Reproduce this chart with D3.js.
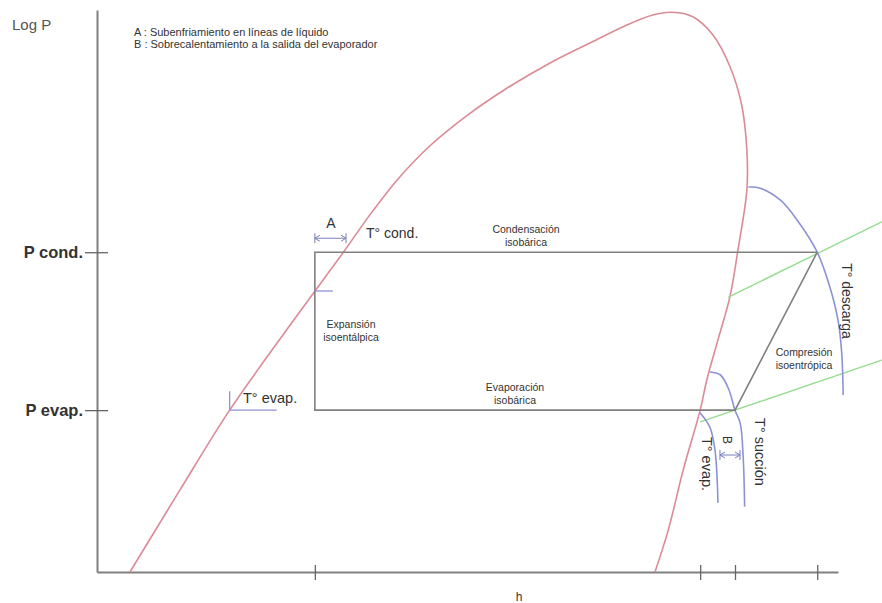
<!DOCTYPE html>
<html>
<head>
<meta charset="utf-8">
<script src="https://cdn.jsdelivr.net/npm/d3@7"></script>
<style>
  body { margin: 0; background: #fff; }
  svg { display: block; font-family: "Liberation Sans", Arial, sans-serif; }
</style>
</head>
<body>
<div id="chart"></div>
<script>
// enthalpy (h) and log P in relative units, 0..100
const hLiquid = 29.4;   // expansion line
const hVapor = 81.4;    // saturated vapour at evap
const hSuction = 86.1;  // compressor suction
const hDischarge = 97.2;
const pCond = 56.9;
const pEvap = 28.8;

const xTicks = [hLiquid, hVapor, hSuction, hDischarge];
const yTicks = [pCond, pEvap];
const yTickLabels = ['P cond.', 'P evap.'];

// saturation dome (liquid branch then vapour branch)
const domeH = [4.45, 11.2, 17.9, 25.6, 33.2, 36.8, 40.6, 44.9, 49.7, 55.1, 60.9, 66.8, 71.3, 75.0, 77.6,
  80.4, 83.1, 85.4, 87.0, 87.7, 87.7, 86.5, 85.4, 83.8, 82.3, 81.4, 79.1, 77.1, 75.3];
const domeP = [0, 14.6, 28.8, 43.1, 56.8, 63.5, 69.9, 75.8, 81.0, 85.9, 90.4, 94.3, 97.2, 99.1, 99.6,
  98.8, 95.6, 90.0, 83.1, 75.1, 68.0, 57.3, 48.9, 41.3, 34.2, 28.8, 18.1, 7.5, 0];

// isotherms
const dischargeH = [87.9, 89.5, 92.2, 94.5, 97.2, 98.9, 100, 100.5, 100.7];
const dischargeP = [68.5, 68.3, 66.2, 62.6, 56.9, 50.7, 44.8, 39.0, 31.5];
const suctionH = [82.7, 84.1, 85.2, 86.1, 86.8, 87.2, 87.4];
const suctionP = [35.6, 35.1, 32.7, 28.8, 26.5, 20.5, 11.6];
const evapH = [81.4, 82.7, 83.4, 83.8];
const evapP = [28.3, 25.8, 21.7, 12.3];

// isentropes
const isenHighH = [85.2, 105.9];
const isenHighP = [48.9, 62.3];
const isenLowH = [81.4, 105.9];
const isenLowP = [26.7, 37.7];

// cycle corners
const cycleH = [hDischarge, hLiquid, hLiquid, hSuction, hDischarge];
const cycleP = [pCond, pCond, pEvap, pEvap, pCond];

const hSatLiqCond = 33.2;  // end of subcooling
const hSatLiqEvap = 17.9;
const pCrossLiquid = 50.0; // where expansion line meets the dome

const width = 882, height = 603;
const svg = d3.select('#chart').append('svg')
  .attr('width', width).attr('height', height);

const x = d3.scaleLinear().domain([0, 100]).range([97, 838]);
const y = d3.scaleLinear().domain([0, 100]).range([572, 10]);

const zip = (hs, ps) => hs.map((h, i) => [h, ps[i]]);
const smooth = d3.line().x(d => x(d[0])).y(d => y(d[1])).curve(d3.curveCatmullRom.alpha(0.5));
const straight = d3.line().x(d => x(d[0])).y(d => y(d[1]));

const red = '#dc8a96', blue = '#8d92d6', green = '#95dc8f', grey = '#808080';

// axes
const xAxis = svg.append('g')
  .attr('transform', 'translate(0,' + y(0) + ')')
  .call(d3.axisBottom(x).tickValues(xTicks).tickFormat('').tickSizeOuter(0));
xAxis.select('.domain').attr('stroke', grey).attr('stroke-width', 2);
xAxis.selectAll('.tick line').attr('y1', -7).attr('y2', 8).attr('stroke', '#666').attr('stroke-width', 1.3);

const yAxis = svg.append('g')
  .attr('transform', 'translate(' + x(0) + ',0)')
  .call(d3.axisLeft(y).tickValues(yTicks).tickFormat((d, i) => yTickLabels[i]).tickSizeOuter(0));
yAxis.select('.domain').attr('stroke', grey).attr('stroke-width', 2);
yAxis.selectAll('.tick line').attr('x1', -12).attr('x2', 11).attr('stroke', '#666').attr('stroke-width', 1.3);
yAxis.selectAll('.tick text')
  .attr('x', -14)
  .attr('fill', '#333')
  .style('font-family', '"Liberation Sans", Arial, sans-serif')
  .style('font-size', '16.5px')
  .style('font-weight', 'bold');

svg.append('text').attr('x', 12).attr('y', 30)
  .attr('fill', '#555').style('font-size', '15px').text('Log P');
svg.append('text').attr('x', 519).attr('y', 601)
  .attr('fill', '#333').attr('text-anchor', 'middle').style('font-size', '12px').text('h');

// legend notes
const notes = ['A : Subenfriamiento en líneas de líquido', 'B : Sobrecalentamiento a la salida del evaporador'];
svg.selectAll('.note').data(notes).join('text')
  .attr('class', 'note')
  .attr('x', 134).attr('y', (d, i) => 36 + i * 12)
  .attr('fill', '#333').style('font-size', '11px')
  .text(d => d);

// dome
svg.append('path').attr('d', smooth(zip(domeH, domeP)))
  .attr('fill', 'none').attr('stroke', red).attr('stroke-width', 1.6);

// isentropes
[[isenHighH, isenHighP], [isenLowH, isenLowP]].forEach(([hs, ps]) => {
  svg.append('path').attr('d', straight(zip(hs, ps)))
    .attr('fill', 'none').attr('stroke', green).attr('stroke-width', 1.4);
});

// isotherms
[[dischargeH, dischargeP], [suctionH, suctionP], [evapH, evapP]].forEach(([hs, ps]) => {
  svg.append('path').attr('d', smooth(zip(hs, ps)))
    .attr('fill', 'none').attr('stroke', blue).attr('stroke-width', 1.6);
});

// cycle
svg.append('path').attr('d', straight(zip(cycleH, cycleP)))
  .attr('fill', 'none').attr('stroke', grey).attr('stroke-width', 1.6);

// small blue marks
const mark = svg.append('g').attr('stroke', blue).attr('stroke-width', 1.3).attr('fill', 'none');
mark.append('path').attr('d',
  'M' + x(hSatLiqEvap) + ',' + (y(pEvap) - 19) + 'V' + y(pEvap) + 'H' + (x(hSatLiqEvap) + 47));
mark.append('line')
  .attr('x1', x(hLiquid)).attr('x2', x(hLiquid) + 18)
  .attr('y1', y(pCrossLiquid)).attr('y2', y(pCrossLiquid));

// dimension arrows for A and B
function dimArrow(x1, x2, yy, tick) {
  const g = svg.append('g').attr('stroke', '#7a80b8').attr('stroke-width', 1).attr('fill', 'none');
  g.append('line').attr('x1', x1).attr('x2', x2).attr('y1', yy).attr('y2', yy);
  g.append('path').attr('d', `M${x1 + 5},${yy - 3}L${x1},${yy}L${x1 + 5},${yy + 3}`);
  g.append('path').attr('d', `M${x2 - 5},${yy - 3}L${x2},${yy}L${x2 - 5},${yy + 3}`);
  g.append('line').attr('x1', x1).attr('x2', x1).attr('y1', yy - tick).attr('y2', yy + tick);
  g.append('line').attr('x1', x2).attr('x2', x2).attr('y1', yy - tick).attr('y2', yy + tick);
}
dimArrow(x(hLiquid), x(hSatLiqCond) + 3, y(pCond) - 14, 5);
dimArrow(x(evapH[3]) + 2, x(hSuction) + 5, 455, 5);

// labels
const label = (tx, ty, lines, size, anchor, rot) => {
  const t = svg.append('text')
    .attr('transform', `translate(${tx},${ty})` + (rot ? ` rotate(${rot})` : ''))
    .attr('fill', '#333').attr('text-anchor', anchor || 'middle')
    .style('font-size', size + 'px');
  lines.forEach((s, i) => t.append('tspan').attr('x', 0).attr('dy', i ? '1.2em' : 0).text(s));
};
label(331, 228, ['A'], 14);
label(366, 238, ['T° cond.'], 14, 'start');
label(526, 233, ['Condensación', 'isobárica'], 10.5);
label(351, 328, ['Expansión', 'isoentálpica'], 10.5);
label(243, 403, ['T° evap.'], 14.5, 'start');
label(515, 391, ['Evaporación', 'isobárica'], 10.5);
label(804, 356, ['Compresión', 'isoentrópica'], 10.5);
label(842, 301, ['T° descarga'], 14, 'middle', 90);
label(755, 452, ['T° succión'], 14.5, 'middle', 90);
label(702, 464, ['T° evap.'], 14.5, 'middle', 90);
label(723, 440, ['B'], 12, 'middle', 90);
</script>
</body>
</html>
